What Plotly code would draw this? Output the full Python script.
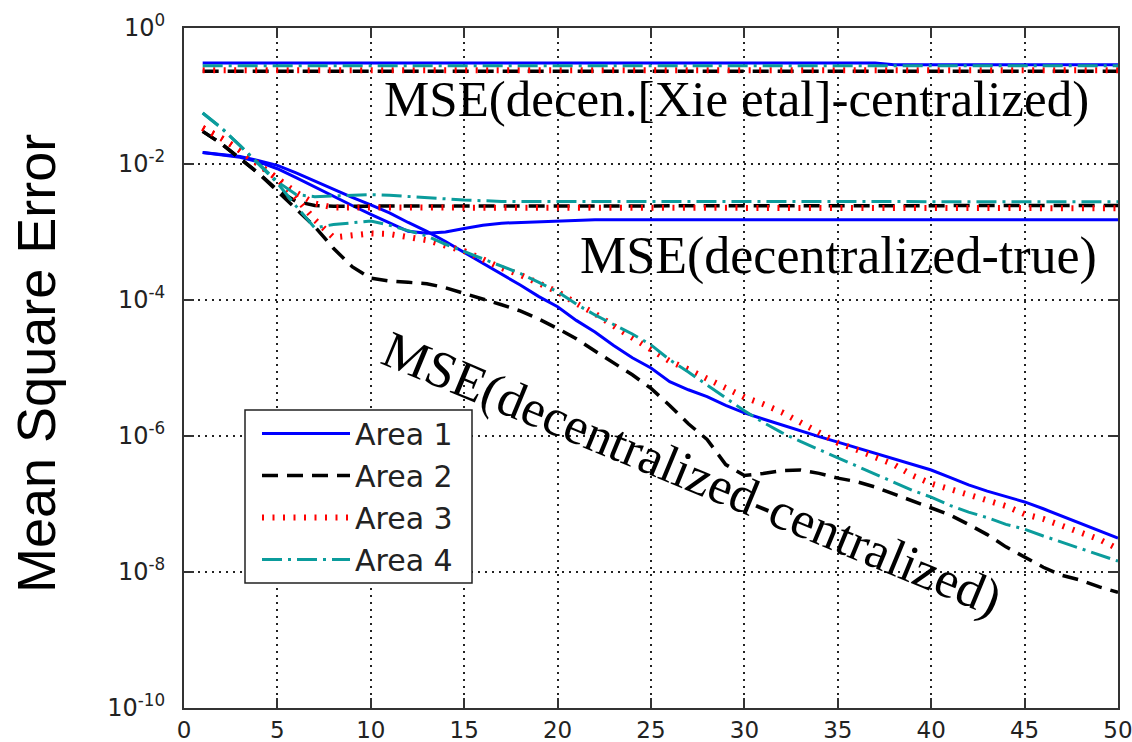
import plotly.graph_objects as go

# ---------------- data (log10 of mean square error) ----------------
iterations = list(range(1, 51))

# decentralized [Xie et al] - centralized (flat lines near the top)
xie_a1_iter = [1, 37, 38, 50]
xie_a1_log = [-0.515, -0.515, -0.54, -0.54]
xie_a2_iter = [1, 50]
xie_a2_log = [-0.635, -0.635]
xie_a3_iter = [1, 50]
xie_a3_log = [-0.62, -0.62]
xie_a4_iter = [1, 50]
xie_a4_log = [-0.555, -0.555]

# decentralized - true (curves levelling off near 2e-3)
true_a1_iter = list(range(1, 23)) + [50]
true_a1_log = [-1.83, -1.86, -1.90, -1.97, -2.07, -2.20, -2.34, -2.48, -2.61, -2.74,
               -2.87, -2.99, -3.02, -3.00, -2.95, -2.90, -2.87, -2.86, -2.85, -2.83,
               -2.82, -2.82, -2.82]
true_a2_iter = list(range(1, 9)) + [50]
true_a2_log = [-1.52, -1.70, -1.92, -2.14, -2.38, -2.55, -2.61, -2.62, -2.61]
true_a3_iter = list(range(1, 9)) + [50]
true_a3_log = [-1.47, -1.62, -1.80, -2.00, -2.20, -2.42, -2.58, -2.64, -2.65]
true_a4_iter = list(range(1, 18)) + [50]
true_a4_log = [-1.25, -1.47, -1.73, -2.00, -2.26, -2.45, -2.48, -2.47, -2.46, -2.45,
               -2.46, -2.48, -2.50, -2.52, -2.53, -2.54, -2.55, -2.555]

# decentralized - centralized (decaying curves)
cent_a1_log = [-1.83, -1.86, -1.89, -1.95, -2.02, -2.13, -2.25, -2.38, -2.49, -2.60,
               -2.72, -2.86, -2.99, -3.14, -3.30, -3.45, -3.61, -3.78, -3.95, -4.10,
               -4.30, -4.47, -4.67, -4.85, -5.00, -5.20, -5.32, -5.42, -5.55, -5.66,
               -5.75, -5.84, -5.93, -6.01, -6.09, -6.17, -6.25, -6.33, -6.41, -6.50,
               -6.61, -6.72, -6.81, -6.89, -6.97, -7.07, -7.18, -7.29, -7.40, -7.50]
cent_a2_log = [-1.52, -1.70, -1.92, -2.14, -2.40, -2.66, -2.92, -3.24, -3.51, -3.68,
               -3.72, -3.74, -3.76, -3.82, -3.90, -3.98, -4.07, -4.16, -4.28, -4.42,
               -4.57, -4.75, -4.92, -5.10, -5.30, -5.55, -5.82, -6.05, -6.42, -6.58,
               -6.55, -6.51, -6.50, -6.55, -6.62, -6.67, -6.75, -6.85, -6.96, -7.06,
               -7.16, -7.30, -7.45, -7.63, -7.78, -7.93, -8.05, -8.12, -8.22, -8.30]
cent_a3_log = [-1.47, -1.62, -1.80, -2.00, -2.22, -2.50, -2.82, -3.08, -3.04, -3.02,
               -3.03, -3.07, -3.12, -3.20, -3.28, -3.40, -3.53, -3.63, -3.75, -3.88,
               -4.05, -4.20, -4.38, -4.55, -4.72, -4.90, -5.02, -5.15, -5.30, -5.43,
               -5.53, -5.65, -5.80, -5.95, -6.10, -6.20, -6.32, -6.42, -6.58, -6.70,
               -6.78, -6.86, -6.96, -7.03, -7.15, -7.22, -7.32, -7.43, -7.52, -7.66]
cent_a4_log = [-1.25, -1.47, -1.73, -2.00, -2.28, -2.62, -2.94, -2.89, -2.86, -2.84,
               -2.90, -2.98, -3.06, -3.18, -3.29, -3.40, -3.50, -3.61, -3.74, -3.88,
               -4.06, -4.22, -4.36, -4.50, -4.66, -4.88, -5.06, -5.25, -5.44, -5.63,
               -5.80, -5.95, -6.08, -6.20, -6.33, -6.45, -6.56, -6.68, -6.80, -6.90,
               -7.02, -7.12, -7.20, -7.30, -7.37, -7.47, -7.56, -7.66, -7.75, -7.84]

area_names = ["Area 1", "Area 2", "Area 3", "Area 4"]
y_tick_exponents = [-10, -8, -6, -4, -2, 0]
y_tick_labels = ["10<sup>-10</sup>", "10<sup>-8</sup>", "10<sup>-6</sup>",
                 "10<sup>-4</sup>", "10<sup>-2</sup>", "10<sup>0</sup>"]
x_tick_values = [0, 5, 10, 15, 20, 25, 30, 35, 40, 45, 50]

label_xie = "MSE(decen.[Xie etal]-centralized)"
label_true = "MSE(decentralized-true)"
label_cent = "MSE(decentralized-centralized)"
y_title = "Mean Square Error"

# ---------------- styles ----------------
styles = [
    dict(color="#0000FF", width=3, dash="solid"),
    dict(color="#000000", width=3.5, dash="16px,9px"),
    dict(color="#FF0000", width=6, dash="2px,8.5px"),
    dict(color="#0B9C9C", width=3, dash="20px,6px,3px,6px"),
]

series = [
    (xie_a1_iter, xie_a1_log, true_a1_iter, true_a1_log, cent_a1_log),
    (xie_a2_iter, xie_a2_log, true_a2_iter, true_a2_log, cent_a2_log),
    (xie_a3_iter, xie_a3_log, true_a3_iter, true_a3_log, cent_a3_log),
    (xie_a4_iter, xie_a4_log, true_a4_iter, true_a4_log, cent_a4_log),
]

fig = go.Figure()
for i, (name, st, (xi, xl, ti, tl, cl)) in enumerate(zip(area_names, styles, series)):
    line = dict(color=st["color"], width=st["width"], dash=st["dash"])
    for k, (xs, logs) in enumerate([(iterations, cl), (ti, tl), (xi, xl)]):
        fig.add_trace(go.Scatter(
            x=xs, y=[10 ** v for v in logs], mode="lines", line=line,
            name=name, legendgroup=name, showlegend=(k == 0),
        ))

serif = "Liberation Serif, Times New Roman, serif"
sans = "Liberation Sans, Arial, Helvetica, sans-serif"
tick_sans = "DejaVu Sans, Verdana, sans-serif"

W, H = 1132, 742
ml, mr, mt, mb = 184, 14, 28, 34
pw, ph = W - ml - mr, H - mt - mb


def px_to_paper(px, py):
    return (px - ml) / pw, (H - mb - py) / ph


annotations = []
ax, ay = px_to_paper(736, 99)
annotations.append(dict(text=label_xie, x=ax, y=ay, xref="paper", yref="paper",
                        showarrow=False, xanchor="center", yanchor="middle",
                        font=dict(family=serif, size=51, color="black")))
ax, ay = px_to_paper(838, 256)
annotations.append(dict(text=label_true, x=ax, y=ay, xref="paper", yref="paper",
                        showarrow=False, xanchor="center", yanchor="middle",
                        font=dict(family=serif, size=52, color="black")))
ax, ay = px_to_paper(692, 474)
annotations.append(dict(text=label_cent, x=ax, y=ay, xref="paper", yref="paper",
                        showarrow=False, xanchor="center", yanchor="middle", textangle=22.5,
                        font=dict(family=serif, size=52, color="black")))
ax, ay = px_to_paper(36, 364)
annotations.append(dict(text=y_title, x=ax, y=ay, xref="paper", yref="paper",
                        showarrow=False, xanchor="center", yanchor="middle", textangle=-90,
                        font=dict(family=sans, size=54, color="black")))

axis_common = dict(
    showgrid=True, gridcolor="#222222", gridwidth=1.5, griddash="2px,5px",
    ticks="inside", ticklen=10, tickwidth=1.5, tickcolor="#333333",
    showline=True, linecolor="#333333", linewidth=2, mirror="ticks",
    zeroline=False, ticklabeloverflow="allow", automargin=False,
)

# legend frame (box drawn at the reference position; legend itself is unframed)
lx0, ly0 = px_to_paper(245, 583)
lx1, ly1 = px_to_paper(472, 410)
legend_left, legend_top = px_to_paper(257, 407.5)

fig.update_layout(
    width=W, height=H,
    margin=dict(l=ml, r=mr, t=mt, b=mb, autoexpand=False),
    paper_bgcolor="white", plot_bgcolor="white",
    xaxis=dict(range=[0, 50], tickvals=x_tick_values, ticklabelstandoff=0,
               tickfont=dict(family=tick_sans, size=23, color="#222222"), **axis_common),
    yaxis=dict(type="log", range=[-10, 0], ticklabelstandoff=12,
               tickvals=[10 ** e for e in y_tick_exponents], ticktext=y_tick_labels,
               tickfont=dict(family=tick_sans, size=24, color="#222222"), **axis_common),
    legend=dict(x=legend_left, y=legend_top, xanchor="left", yanchor="top",
                bgcolor="rgba(0,0,0,0)", borderwidth=0,
                font=dict(family=tick_sans, size=30, color="#222222"),
                itemwidth=88, tracegroupgap=0),
    shapes=[dict(type="rect", xref="paper", yref="paper", x0=lx0, x1=lx1, y0=ly0, y1=ly1,
                 fillcolor="white", line=dict(color="#222222", width=1.5), layer="above")],
    annotations=annotations,
    showlegend=True,
)

fig.write_html("out.html")
